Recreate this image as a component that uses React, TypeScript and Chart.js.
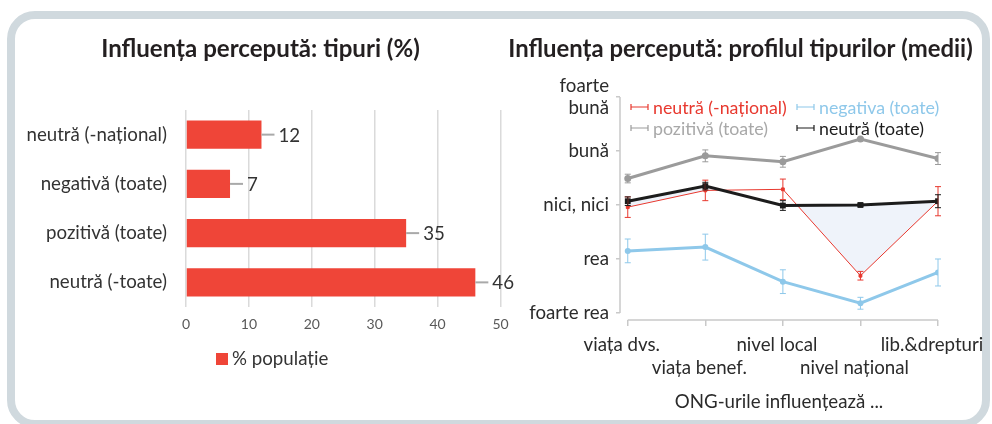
import React, { useEffect, useRef } from "react";
import { Chart, registerables } from "chart.js";

Chart.register(...registerables);

const FONT = "Lato, 'DejaVu Sans', sans-serif";

// ---- left panel data ----
const LEFT_TITLE = "Influența percepută: tipuri (%)";
const TYPE_LABELS = ["neutră (-național)", "negativă (toate)", "pozitivă (toate)", "neutră (-toate)"];
const TYPE_SHARE = [12, 7, 35, 46];
const SHARE_TICKS = [0, 10, 20, 30, 40, 50];
const SHARE_SERIES = "% populație";

// ---- right panel data ----
const RIGHT_TITLE = "Influența percepută: profilul tipurilor (medii)";
const X_TITLE = "ONG-urile influențează ...";
const DOMAINS = ["viața dvs.", "viața benef.", "nivel local", "nivel național", "lib.&drepturi"];
const RATING_VALUES = [1, 2, 3, 4, 5];
const RATING_LABELS: (string | string[])[] = ["foarte rea", "rea", "nici, nici", "bună", ["foarte", "bună"]];

const SERIES_NAMES = ["neutră (-național)", "negativa (toate)", "pozitivă (toate)", "neutră (toate)"];
const NEUTRAL_NAT = [2.96, 3.27, 3.29, 1.69, 3.07];
const NEUTRAL_NAT_ERR = [0.19, 0.19, 0.19, 0.08, 0.27];
const NEGATIVE_ALL = [2.15, 2.22, 1.58, 1.18, 1.75];
const NEGATIVE_ALL_ERR = [0.22, 0.24, 0.22, 0.11, 0.25];
const POSITIVE_ALL = [3.49, 3.91, 3.8, 4.22, 3.86];
const POSITIVE_ALL_ERR = [0.08, 0.11, 0.1, 0.02, 0.11];
const NEUTRAL_ALL = [3.07, 3.35, 2.99, 3.0, 3.07];
const NEUTRAL_ALL_ERR = [0.08, 0.07, 0.09, 0.03, 0.12];

// ---- styles ----
const BAR_RED = "#ef4538";
const RED = "#e8382e";
const BLUE = "#8ec8ea";
const GRAY = "#9b9b9b";
const BLACK = "#1c1c1c";
const FILL = "rgba(226,234,245,0.55)";
const AXIS = "#c9c9c9";
const TEXT = "#2b2b2b";

function fitSize(text: string, width: number, weight = "normal") {
  const c = document.createElement("canvas").getContext("2d")!;
  c.font = `${weight} 100px ${FONT}`;
  const w = c.measureText(text).width;
  return Math.round((1000 * width) / w) / 10;
}

// draws a panel title centred on the canvas
function panelTitle(text: string, size: number, y: number) {
  return {
    id: "panelTitle",
    afterDraw(chart: any) {
      const ctx = chart.ctx;
      ctx.save();
      ctx.font = `bold ${size}px ${FONT}`;
      ctx.fillStyle = "#231f20";
      ctx.textAlign = "center";
      ctx.textBaseline = "middle";
      ctx.fillText(text, chart.width / 2, y);
      ctx.restore();
    },
  };
}

export default function App() {
  const leftRef = useRef<HTMLCanvasElement>(null);
  const rightRef = useRef<HTMLCanvasElement>(null);

  useEffect(() => {
    const LEFT_TITLE_SIZE = fitSize(LEFT_TITLE, 319, "bold");
    const RIGHT_TITLE_SIZE = fitSize(RIGHT_TITLE, 465, "bold");
    const LABEL_SIZE = fitSize("neutră (-național)", 141);
    const LEGEND_SIZE = fitSize("neutră (-național)", 134);
    const TICK_SIZE = 14;

    // ---------- left bar chart ----------
    const barValueLabels = {
      id: "barValueLabels",
      afterDatasetsDraw(chart: any) {
        const ctx = chart.ctx;
        const meta = chart.getDatasetMeta(0);
        const values = chart.data.datasets[0].data;
        meta.data.forEach((bar: any, i: number) => {
          const { x, y } = bar.getProps(["x", "y"], true);
          ctx.save();
          ctx.strokeStyle = "#a9a9a9";
          ctx.lineWidth = 2;
          ctx.beginPath();
          ctx.moveTo(x, y);
          ctx.lineTo(x + 13, y);
          ctx.stroke();
          ctx.fillStyle = "#333";
          ctx.font = `${LABEL_SIZE}px ${FONT}`;
          ctx.textBaseline = "middle";
          ctx.textAlign = "left";
          ctx.fillText(String(values[i]), x + 17, y + 1);
          ctx.restore();
        });
      },
    };
    const barLegend = {
      id: "barLegend",
      afterDraw(chart: any) {
        const ctx = chart.ctx;
        const { left, bottom } = chart.chartArea;
        const ds = chart.data.datasets[0];
        ctx.save();
        ctx.fillStyle = ds.backgroundColor;
        ctx.fillRect(left + 30, bottom + 46, 12, 12);
        ctx.fillStyle = "#333";
        ctx.font = `${LABEL_SIZE}px ${FONT}`;
        ctx.textBaseline = "middle";
        ctx.fillText(ds.label, left + 46, bottom + 52);
        ctx.restore();
      },
    };

    const left = new Chart(leftRef.current!, {
      type: "bar",
      data: {
        labels: TYPE_LABELS,
        datasets: [
          {
            label: SHARE_SERIES,
            data: TYPE_SHARE,
            backgroundColor: BAR_RED,
            barPercentage: 0.57,
            categoryPercentage: 1,
          },
        ],
      },
      options: {
        animation: false,
        responsive: false,
        indexAxis: "y",
        layout: { padding: { left: 0, right: 19.5, top: 90, bottom: 0 } },
        plugins: {
          legend: { display: false },
          tooltip: { enabled: false },
          title: { display: false },
        },
        scales: {
          x: {
            type: "linear",
            min: SHARE_TICKS[0],
            max: SHARE_TICKS[SHARE_TICKS.length - 1],
            afterBuildTicks: (s: any) => {
              s.ticks = SHARE_TICKS.map((v) => ({ value: v }));
            },
            grid: { color: "#dadada", lineWidth: 1.5, drawTicks: false },
            border: { display: false },
            ticks: { padding: 9, color: "#595959", font: { family: FONT, size: TICK_SIZE } },
            afterFit: (s: any) => {
              s.height = 113;
            },
          },
          y: {
            grid: { display: false, drawTicks: false },
            border: { display: false },
            ticks: { padding: 19, color: "#333", font: { family: FONT, size: LABEL_SIZE } },
            afterFit: (s: any) => {
              s.width = 185;
            },
          },
        },
      } as any,
      plugins: [barValueLabels, barLegend, panelTitle(LEFT_TITLE, LEFT_TITLE_SIZE, 29)],
    });

    // ---------- right line chart ----------
    const errs = [NEUTRAL_NAT_ERR, NEGATIVE_ALL_ERR, POSITIVE_ALL_ERR, NEUTRAL_ALL_ERR];
    const toPts = (arr: number[]) => arr.map((y, i) => ({ x: i, y }));

    const errorBars = {
      id: "errorBars",
      afterDatasetsDraw(chart: any) {
        const ctx = chart.ctx;
        const ys = chart.scales.y;
        chart.data.datasets.forEach((ds: any, di: number) => {
          const meta = chart.getDatasetMeta(di);
          meta.data.forEach((pt: any, i: number) => {
            const v = ds.data[i].y;
            const e = errs[di][i];
            const t = ys.getPixelForValue(v + e);
            const b = ys.getPixelForValue(v - e);
            ctx.save();
            ctx.strokeStyle = ds.borderColor;
            ctx.lineWidth = 1;
            ctx.beginPath();
            ctx.moveTo(pt.x, t);
            ctx.lineTo(pt.x, b);
            ctx.moveTo(pt.x - 3, t);
            ctx.lineTo(pt.x + 3, t);
            ctx.moveTo(pt.x - 3, b);
            ctx.lineTo(pt.x + 3, b);
            ctx.stroke();
            ctx.restore();
          });
        });
      },
    };

    const axisLines = {
      id: "axisLines",
      beforeDatasetsDraw(chart: any) {
        const ctx = chart.ctx;
        const xs = chart.scales.x;
        const ys = chart.scales.y;
        const { left: l, bottom } = chart.chartArea;
        ctx.save();
        ctx.strokeStyle = AXIS;
        ctx.lineWidth = 1.5;
        ctx.beginPath();
        ctx.moveTo(l, ys.getPixelForValue(RATING_VALUES[RATING_VALUES.length - 1]));
        ctx.lineTo(l, ys.getPixelForValue(RATING_VALUES[0]));
        ctx.moveTo(xs.getPixelForValue(0), bottom);
        ctx.lineTo(xs.getPixelForValue(DOMAINS.length - 1), bottom);
        ctx.stroke();
        ctx.restore();
      },
    };

    const gridLegend = {
      id: "gridLegend",
      afterDraw(chart: any) {
        const ctx = chart.ctx;
        const { left: l, top } = chart.chartArea;
        const cols = [11, 177];
        const rows = [10, 31];
        ctx.save();
        ctx.font = `${LEGEND_SIZE}px ${FONT}`;
        ctx.textBaseline = "middle";
        chart.data.datasets.forEach((ds: any, i: number) => {
          const x = l + cols[i % 2];
          const y = top + rows[Math.floor(i / 2)];
          ctx.strokeStyle = ds.borderColor;
          ctx.lineWidth = 1.2;
          ctx.beginPath();
          ctx.moveTo(x, y);
          ctx.lineTo(x + 17, y);
          ctx.moveTo(x, y - 3);
          ctx.lineTo(x, y + 3);
          ctx.moveTo(x + 17, y - 3);
          ctx.lineTo(x + 17, y + 3);
          ctx.stroke();
          ctx.fillStyle = ds.legendColor || ds.borderColor;
          ctx.fillText(ds.label, x + 22, y + 1);
        });
        ctx.restore();
      },
    };

    const right = new Chart(rightRef.current!, {
      type: "line",
      data: {
        datasets: [
          {
            label: SERIES_NAMES[0],
            data: toPts(NEUTRAL_NAT),
            borderColor: RED,
            backgroundColor: RED,
            borderWidth: 1,
            pointRadius: 2,
            pointStyle: "rect",
            fill: { target: 3, above: "rgba(0,0,0,0)", below: FILL },
            order: 2,
          },
          {
            label: SERIES_NAMES[1],
            data: toPts(NEGATIVE_ALL),
            borderColor: BLUE,
            backgroundColor: BLUE,
            borderWidth: 3,
            pointRadius: 1.5,
            fill: false,
            order: 3,
          },
          {
            label: SERIES_NAMES[2],
            data: toPts(POSITIVE_ALL),
            borderColor: GRAY,
            backgroundColor: GRAY,
            legendColor: "#a8a8a8",
            borderWidth: 3,
            pointRadius: 2,
            fill: false,
            order: 4,
          },
          {
            label: SERIES_NAMES[3],
            data: toPts(NEUTRAL_ALL),
            borderColor: BLACK,
            backgroundColor: BLACK,
            borderWidth: 3,
            pointRadius: 2,
            pointStyle: "rect",
            fill: false,
            order: 1,
          },
        ] as any,
      },
      options: {
        animation: false,
        responsive: false,
        layout: { padding: { left: 0, right: 63, top: 77, bottom: 0 } },
        elements: { line: { tension: 0 } },
        plugins: {
          legend: { display: false },
          tooltip: { enabled: false },
          title: { display: false },
        },
        scales: {
          x: {
            type: "linear",
            min: -0.1,
            max: DOMAINS.length - 1,
            afterBuildTicks: (s: any) => {
              s.ticks = DOMAINS.map((_, i) => ({ value: i }));
            },
            grid: { drawOnChartArea: false, drawTicks: true, tickLength: 6, color: AXIS, lineWidth: 1.5 },
            border: { display: false },
            ticks: {
              autoSkip: false,
              maxRotation: 0,
              minRotation: 0,
              padding: 8,
              labelOffset: -6,
              color: TEXT,
              font: { family: FONT, size: LABEL_SIZE },
              callback: (v: any) => {
                const i = Math.round(Number(v));
                return i % 2 === 0 ? [DOMAINS[i], ""] : ["", DOMAINS[i]];
              },
            },
            title: {
              display: true,
              text: X_TITLE,
              color: TEXT,
              font: { family: FONT, size: LABEL_SIZE },
              padding: { top: 0, bottom: 7 },
            },
            afterFit: (s: any) => {
              s.height = 100;
            },
          },
          y: {
            type: "linear",
            min: 0.87,
            max: RATING_VALUES[RATING_VALUES.length - 1],
            afterBuildTicks: (s: any) => {
              s.ticks = RATING_VALUES.map((v) => ({ value: v }));
            },
            grid: { drawOnChartArea: false, drawTicks: true, tickLength: 4, color: AXIS, lineWidth: 1.5 },
            border: { display: false },
            ticks: {
              padding: 7,
              color: TEXT,
              font: { family: FONT, size: LABEL_SIZE },
              callback: (v: any) => RATING_LABELS[RATING_VALUES.indexOf(Number(v))],
            },
            afterFit: (s: any) => {
              s.width = 140;
            },
          },
        },
      } as any,
      plugins: [axisLines, errorBars, gridLegend, panelTitle(RIGHT_TITLE, RIGHT_TITLE_SIZE, 29)],
    });

    return () => {
      left.destroy();
      right.destroy();
    };
  }, []);

  return (
    <div style={{ position: "fixed", left: 0, top: 0, width: 992, height: 424, background: "#fff", overflow: "hidden" }}>
      <div
        style={{
          position: "absolute",
          left: 7,
          top: 11,
          width: 983,
          height: 417,
          border: "8px solid #d0d9de",
          borderRadius: 28,
          boxSizing: "border-box",
          background: "#fff",
        }}
      />
      <canvas ref={leftRef} width={519} height={400} style={{ position: "absolute", left: 1, top: 20, width: 519, height: 400 }} />
      <canvas ref={rightRef} width={521} height={400} style={{ position: "absolute", left: 480, top: 20, width: 521, height: 400 }} />
    </div>
  );
}
